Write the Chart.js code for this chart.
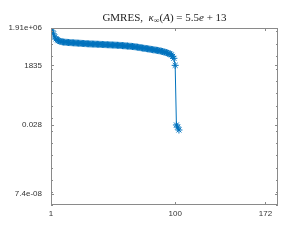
<!DOCTYPE html>
<html>
<head>
<meta charset="UTF-8" />
<title>GMRES residual</title>
<script src="https://cdn.jsdelivr.net/npm/chart.js"></script>
<style>
  body { margin: 0; background: #fff; }
  #wrap { width: 292px; height: 240px; }
</style>
</head>
<body>
<div id="wrap"><canvas id="gm" width="292" height="240"></canvas></div>
<script>
// residual norm per iteration
const residuals = [
  1.91e6, 1.10e6, 6.3e5, 3.6e5, 2.5e5, 2.07e5, 1.82e5, 1.66e5, 1.55e5, 1.44e5,
  1.40e5, 1.37e5, 1.34e5, 1.31e5, 1.29e5, 1.27e5, 1.25e5, 1.23e5, 1.21e5, 1.19e5,
  1.17e5, 1.15e5, 1.13e5, 1.12e5, 1.10e5, 1.08e5, 1.07e5, 1.05e5, 1.04e5, 1.02e5,
  1.01e5, 9.9e4, 9.8e4, 9.7e4, 9.6e4, 9.5e4, 9.4e4, 9.3e4, 9.2e4, 9.1e4,
  9.0e4, 8.9e4, 8.8e4, 8.7e4, 8.6e4, 8.5e4, 8.4e4, 8.3e4, 8.2e4, 8.1e4,
  8.0e4, 7.9e4, 7.8e4, 7.7e4, 7.6e4, 7.5e4, 7.4e4, 7.2e4, 7.1e4, 7.0e4,
  6.8e4, 6.7e4, 6.5e4, 6.4e4, 6.3e4, 6.1e4, 6.0e4, 5.8e4, 5.6e4, 5.4e4,
  5.2e4, 5.0e4, 4.8e4, 4.6e4, 4.45e4, 4.3e4, 4.15e4, 4.0e4, 3.85e4, 3.7e4,
  3.55e4, 3.4e4, 3.3e4, 3.2e4, 3.05e4, 2.95e4, 2.8e4, 2.7e4, 2.55e4, 2.4e4,
  2.25e4, 2.1e4, 1.95e4, 1.8e4, 1.65e4, 1.5e4, 1.3e4, 9.8e3, 6.8e3, 1835,
  0.028, 0.019, 0.011
];
const iterations = residuals.map((_, i) => i + 1);

const xTicks = [1, 100, 172];
const yTicks = [7.4e-8, 0.028, 1835, 1.91e6];
const yTickLabels = ['7.4e-08', '0.028', '1835', '1.91e+06'];

const X_MIN = 1, X_MAX = 182;
const Y_MIN = 9.6e-9, Y_MAX = 1.91e6;

const AX = '#8a8a8a';
const LBL_FONT = { family: '"Liberation Sans", Arial, sans-serif', size: 8 };

// box + inward ticks, matlab style
const boxTicks = {
  id: 'boxTicks',
  afterDraw(chart) {
    const { ctx, chartArea: a, scales } = chart;
    const xs = scales.x, ys = scales.y;
    ctx.save();
    ctx.strokeStyle = AX;
    ctx.lineWidth = 1;
    ctx.strokeRect(a.left + 0.5, a.top + 0.5, a.right - a.left - 1, a.bottom - a.top - 1);
    ctx.beginPath();
    xTicks.forEach(v => {
      const px = Math.round(xs.getPixelForValue(v)) + 0.5;
      ctx.moveTo(px, a.bottom); ctx.lineTo(px, a.bottom - 3);
      ctx.moveTo(px, a.top); ctx.lineTo(px, a.top + 3);
    });
    for (let e = -8; e <= 6; e++) {
      const py = Math.round(ys.getPixelForValue(Math.pow(10, e))) + 0.5;
      ctx.moveTo(a.left, py); ctx.lineTo(a.left + 2, py);
      ctx.moveTo(a.right, py); ctx.lineTo(a.right - 2, py);
    }
    yTicks.forEach(v => {
      const py = Math.round(ys.getPixelForValue(v)) + 0.5;
      ctx.moveTo(a.left, py); ctx.lineTo(a.left + 3, py);
      ctx.moveTo(a.right, py); ctx.lineTo(a.right - 3, py);
    });
    ctx.stroke();

    // title with latex-ish pieces
    const parts = [
      ['GMRES,', 'normal', 11, 0],
      ['  ', 'normal', 11, 0],
      ['\u03BA', 'italic', 11, 0],
      ['\u221E', 'normal', 8, 2],
      ['(', 'normal', 11, 0],
      ['A', 'italic', 11, 0],
      [') = 5.5', 'normal', 11, 0],
      ['e', 'italic', 11, 0],
      [' + 13', 'normal', 11, 0]
    ];
    let total = 0;
    parts.forEach(p => {
      ctx.font = `${p[1]} ${p[2]}px "Liberation Serif", serif`;
      total += ctx.measureText(p[0]).width;
    });
    let x = (a.left + a.right) / 2 - total / 2;
    const base = 21;
    ctx.fillStyle = '#222';
    ctx.textBaseline = 'alphabetic';
    ctx.textAlign = 'left';
    parts.forEach(p => {
      ctx.font = `${p[1]} ${p[2]}px "Liberation Serif", serif`;
      ctx.fillText(p[0], x, base + p[3]);
      x += ctx.measureText(p[0]).width;
    });
    ctx.restore();
  }
};

new Chart(document.getElementById('gm'), {
  type: 'line',
  data: {
    labels: iterations,
    datasets: [{
      data: iterations.map((n, i) => ({ x: n, y: residuals[i] })),
      borderColor: '#0072BD',
      borderWidth: 1,
      pointStyle: 'star',
      pointRadius: 3.5,
      pointBorderWidth: 1,
      pointBorderColor: '#0072BD',
      pointBackgroundColor: '#0072BD',
      tension: 0,
      fill: false
    }]
  },
  options: {
    responsive: false,
    animation: false,
    layout: { padding: { top: 28, right: 14, left: 0, bottom: 0 } },
    plugins: { legend: { display: false }, tooltip: { enabled: false }, title: { display: false } },
    scales: {
      x: {
        type: 'linear',
        min: X_MIN, max: X_MAX,
        afterBuildTicks: s => { s.ticks = xTicks.map(v => ({ value: v })); },
        afterFit: s => { s.height = 35; },
        grid: { display: false, drawTicks: false },
        border: { display: false },
        ticks: {
          autoSkip: false, maxRotation: 0, padding: 4,
          color: '#333',
          font: LBL_FONT,
          callback: v => String(v)
        }
      },
      y: {
        type: 'logarithmic',
        min: Y_MIN, max: Y_MAX,
        afterBuildTicks: s => { s.ticks = yTicks.map(v => ({ value: v })); },
        afterFit: s => { s.width = 51; },
        grid: { display: false, drawTicks: false },
        border: { display: false },
        ticks: {
          autoSkip: false, padding: 9,
          color: '#333',
          font: LBL_FONT,
          callback: (v) => {
            const i = yTicks.indexOf(v);
            return i >= 0 ? yTickLabels[i] : '';
          }
        }
      }
    }
  },
  plugins: [boxTicks]
});
</script>
</body>
</html>
